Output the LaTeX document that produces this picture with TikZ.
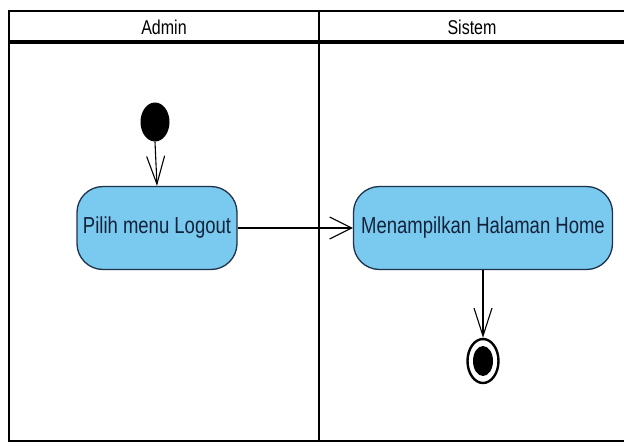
\documentclass[tikz,border=0pt]{standalone}
\usepackage{fontspec}
\setmainfont{Liberation Sans}
\usetikzlibrary{arrows.meta,shapes.geometric}
\definecolor{actfill}{RGB}{122,201,238}
\definecolor{actline}{RGB}{30,50,75}
\definecolor{acttext}{RGB}{20,35,60}
% tall, narrow lettering used throughout the diagram
\newcommand{\tallfont}[2]{\fontsize{#1}{#1}\selectfont\scalebox{1}[1.25]{#2}}
\begin{document}
\begin{tikzpicture}[x=1pt,y=-1pt,
  frame/.style={draw=black,line width=2.6pt},
  headtext/.style={inner sep=0pt,text=black},
  action/.style={draw=actline,fill=actfill,line width=1.3pt,rounded corners=26pt,
    minimum width=160pt,minimum height=83pt,inner sep=0pt,text=acttext},
  initial/.style={ellipse,fill=black,minimum width=29pt,minimum height=39pt,inner sep=0pt},
  finalring/.style={ellipse,draw=black,line width=2.4pt,fill=white,minimum width=31pt,minimum height=44pt,inner sep=0pt},
  finaldot/.style={ellipse,fill=black,minimum width=20pt,minimum height=30pt,inner sep=0pt},
  flowv/.style={draw=black,line width=1.1pt,-{Straight Barb[length=28pt,width=18pt,line width=1.1pt]}},
  flowh/.style={draw=black,line width=1.1pt,-{Straight Barb[length=22pt,width=22pt,line width=1.1pt]}}]
\useasboundingbox (0,0) rectangle (624,445);
\fill[white] (0,0) rectangle (624,445);

% swimlane frame
\draw[frame] (9,11) rectangle (630,441);
\draw[frame,line width=3.2pt] (9,42) -- (630,42);
\draw[frame] (319,11) -- (319,441);
\node[headtext] (hAdmin) at (164,27) {\tallfont{16pt}{Admin}};
\node[headtext] (hSistem) at (472,27) {\tallfont{16pt}{Sistem}};

% activity nodes
\node[initial] (start) at (155,122) {};
\node[action] (logout) at (157,228) {\tallfont{18.5pt}{Pilih menu Logout}};
\node[action,minimum width=259pt] (home) at (483,228) {\tallfont{18.5pt}{Menampilkan Halaman Home}};
\node[finalring] (endring) at (483,361) {};
\node[finaldot] (enddot) at (483,361) {};

% control flows
\draw[flowv] (start.south) -- (logout.north);
\draw[flowh] (logout.east) -- (home.west);
\draw[flowv] (home.south) -- (endring.north);
\end{tikzpicture}
\end{document}
